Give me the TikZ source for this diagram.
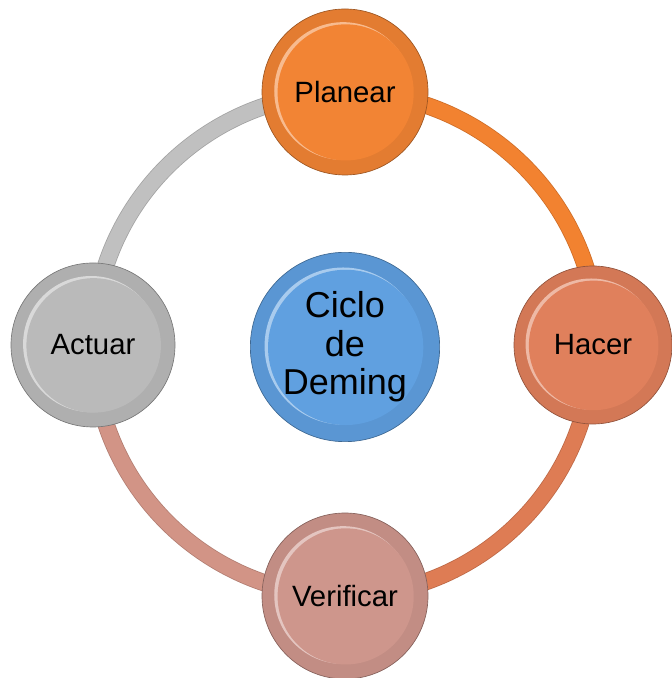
\documentclass[tikz,border=0pt]{standalone}
\usepackage{fontspec}
\setmainfont{Liberation Sans}
\pgfdeclarelayer{background}
\pgfsetlayers{background,main}
\definecolor{cPlan}{RGB}{242,132,52}
\definecolor{cHac}{RGB}{224,128,92}
\definecolor{cVer}{RGB}{206,150,140}
\definecolor{cAct}{RGB}{186,186,186}
\definecolor{cBlue}{RGB}{96,160,224}
\definecolor{rPlan}{RGB}{242,130,48}
\definecolor{rHac}{RGB}{222,124,84}
\definecolor{rVer}{RGB}{210,148,134}
\definecolor{rAct}{RGB}{192,192,192}
\tikzset{
  bub/.style n args={2}{circle, minimum size=#2pt, inner sep=0pt,
    fill=#1!94!black, draw=#1!65!black, line width=0.5pt,
    font=\fontsize{22}{26}\selectfont, text=black, align=center,
    path picture={
      \fill[#1!55!white] ([shift={(-1.4pt,0.7pt)}]path picture bounding box.center) circle[radius={#2*0.415pt}];
      \fill[#1] ([shift={(0.5pt,-0.3pt)}]path picture bounding box.center) circle[radius={#2*0.41pt}];
    }},
  ringseg/.style={line width=13pt, draw=#1!85!black,
    postaction={draw=#1, line width=11.8pt}}
}
\begin{document}
\begin{tikzpicture}[x=0.75pt,y=0.75pt]
\useasboundingbox (0,0) rectangle (671,678);
\node[bub={cBlue}{142}, font=\fontsize{27}{29}\selectfont] (C) at (345,331) {Ciclo\\de\\Deming};
\node[bub={cPlan}{124.5}] (P) at (345,586) {Planear};
\node[bub={cHac}{118.5}] (H) at (593,333) {Hacer};
\node[bub={cVer}{124.5}] (V) at (345,82) {Verificar};
\node[bub={cAct}{123}] (A) at (93,333) {Actuar};
\begin{pgfonlayer}{background}
\draw[ringseg=rPlan] (P.center) arc[start angle=90, end angle=0, radius=253];
\draw[ringseg=rHac] (H.center) arc[start angle=0, end angle=-90, radius=251];
\draw[ringseg=rVer] (V.center) arc[start angle=-90, end angle=-180, radius=252];
\draw[ringseg=rAct] (A.center) arc[start angle=180, end angle=90, radius=252];
\end{pgfonlayer}
\end{tikzpicture}
\end{document}
